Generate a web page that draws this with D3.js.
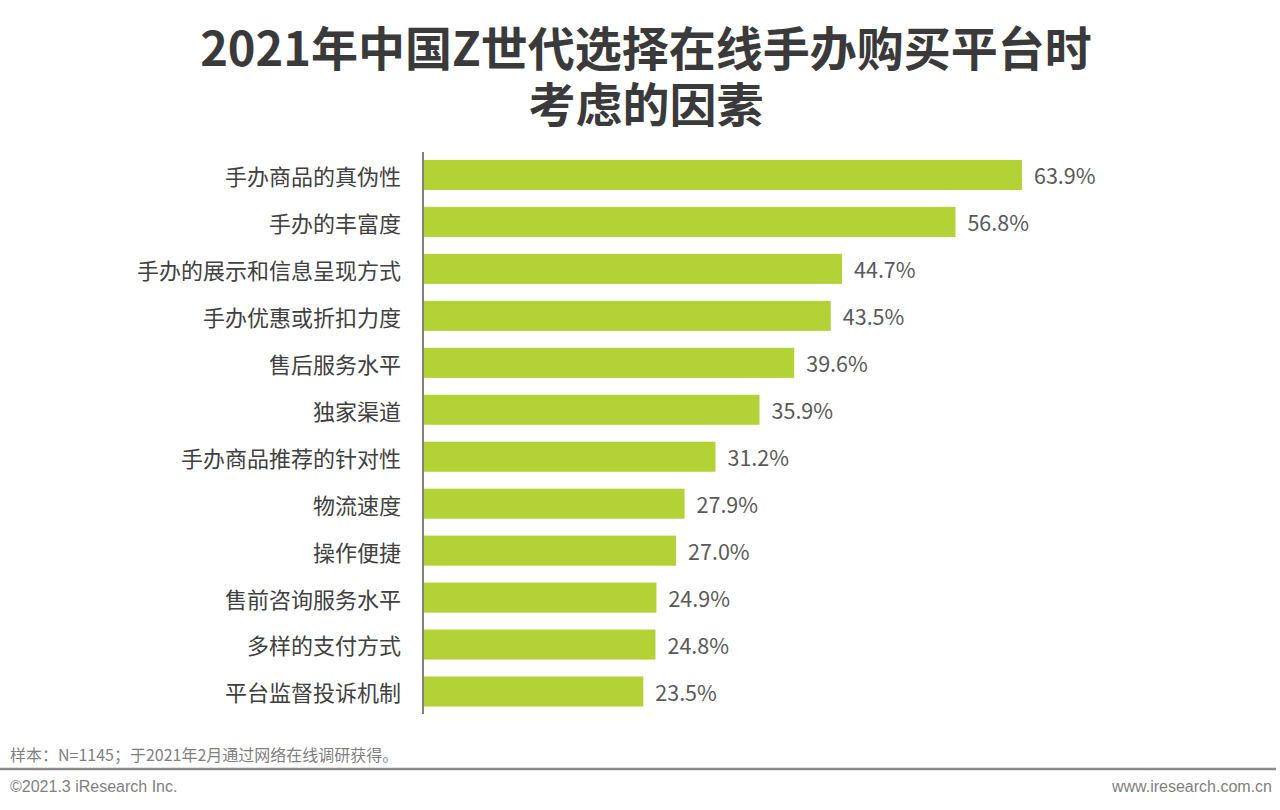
<!DOCTYPE html>
<html>
<head>
<meta charset="utf-8">
<script src="https://cdn.jsdelivr.net/npm/d3@7"></script>
<style>
  body { margin: 0; background: #fff; }
  svg { display: block; }
</style>
</head>
<body>
<svg width="1280" height="810"></svg>
<script>
// data
var categories = ["手办商品的真伪性", "手办的丰富度", "手办的展示和信息呈现方式", "手办优惠或折扣力度",
  "售后服务水平", "独家渠道", "手办商品推荐的针对性", "物流速度", "操作便捷",
  "售前咨询服务水平", "多样的支付方式", "平台监督投诉机制"];
var values = [63.9, 56.8, 44.7, 43.5, 39.6, 35.9, 31.2, 27.9, 27.0, 24.9, 24.8, 23.5];
var titleLines = ["2021年中国Z世代选择在线手办购买平台时", "考虑的因素"];
var note = "样本：N=1145；于2021年2月通过网络在线调研获得。";

var svg = d3.select("svg");
var font = "'Noto Sans CJK SC', 'Noto Sans', sans-serif";

var x = d3.scaleLinear().domain([0, 63.9]).range([423, 1022]);
var y = d3.scaleBand().domain(categories).range([151.5, 715]).paddingInner(0.36).paddingOuter(0.18);

// two-line title in one text element
svg.append("text")
  .attr("x", 646)
  .attr("y", 66)
  .attr("text-anchor", "middle")
  .style("font-family", font)
  .style("font-weight", "bold")
  .style("font-size", "47px")
  .style("fill", "#3a3a3a")
  .selectAll("tspan")
  .data(titleLines)
  .enter()
  .append("tspan")
  .attr("x", 646)
  .attr("dy", function(d, i) { return i ? 56 : 0; })
  .text(function(d) { return d; });

svg.selectAll("rect.bar")
  .data(values)
  .enter()
  .append("rect")
  .attr("x", x(0))
  .attr("y", function(d, i) { return y(categories[i]); })
  .attr("width", function(d) { return x(d) - x(0); })
  .attr("height", y.bandwidth())
  .style("fill", "#b2d235");

svg.selectAll("text.val")
  .data(values)
  .enter()
  .append("text")
  .attr("x", function(d) { return x(d) + 12; })
  .attr("y", function(d, i) { return y(categories[i]) + y.bandwidth() / 2; })
  .attr("dy", "0.42em")
  .style("font-family", font)
  .style("font-size", "21.5px")
  .style("fill", "#595959")
  .text(function(d) { return d.toFixed(1) + "%"; });

var yAxis = d3.axisLeft(y).tickSize(0).tickPadding(22);
var g = svg.append("g").attr("transform", "translate(423,0)").call(yAxis);
g.select(".domain").attr("d", "M0,152V714").style("stroke", "#7f7f7f").style("stroke-width", 2);
g.selectAll("text")
  .attr("dy", "0.45em")
  .style("font-family", font)
  .style("font-size", "22px")
  .style("fill", "#404040");

svg.append("text")
  .attr("x", 10).attr("y", 761)
  .style("font-family", font)
  .style("font-size", "16px")
  .style("fill", "#7f7f7f")
  .text(note);

svg.append("line")
  .attr("x1", 0).attr("x2", 1276)
  .attr("y1", 769).attr("y2", 769)
  .style("stroke", "#8c8c8c")
  .style("stroke-width", 2.5);

svg.append("text")
  .attr("x", 10).attr("y", 792)
  .style("font-family", "'Liberation Sans Narrow', 'Liberation Sans', Arial, sans-serif")
  .style("font-size", "16px")
  .style("fill", "#7f7f7f")
  .text("©2021.3 iResearch Inc.");

svg.append("text")
  .attr("x", 1272).attr("y", 792)
  .attr("text-anchor", "end")
  .style("font-family", "'Liberation Sans Narrow', 'Liberation Sans', Arial, sans-serif")
  .style("font-size", "16px")
  .style("fill", "#7f7f7f")
  .text("www.iresearch.com.cn");
</script>
</body>
</html>
